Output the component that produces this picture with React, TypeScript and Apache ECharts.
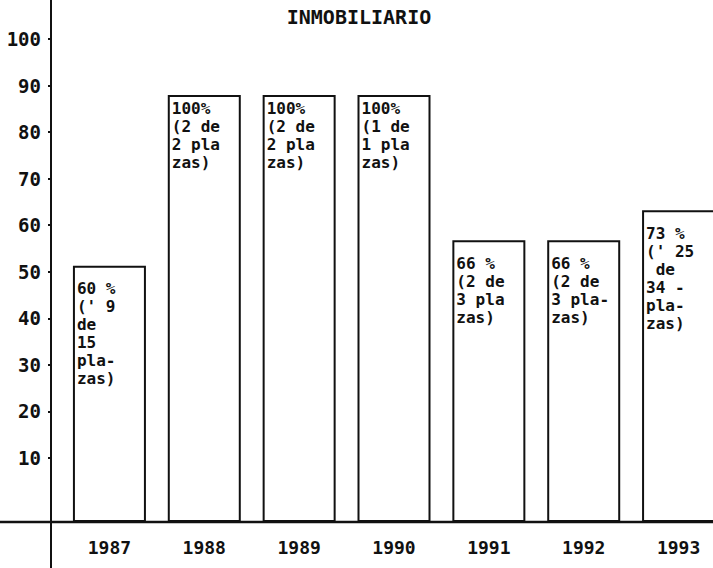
import React, { useEffect, useRef } from "react";
import * as echarts from "echarts";

const title = "INMOBILIARIO";
const years = ["1987", "1988", "1989", "1990", "1991", "1992", "1993"];
const percentages = [60, 100, 100, 100, 66, 66, 73];
const barTexts = [
  "60 %\n(' 9\nde\n15\npla-\nzas)",
  "100%\n(2 de\n2 pla\nzas)",
  "100%\n(2 de\n2 pla\nzas)",
  "100%\n(1 de\n1 pla\nzas)",
  "66 %\n(2 de\n3 pla\nzas)",
  "66 %\n(2 de\n3 pla-\nzas)",
  "73 %\n(' 25\n de\n34 -\npla-\nzas)",
];
const yTicks = [10, 20, 30, 40, 50, 60, 70, 80, 90, 100];

const FONT = "'DejaVu Sans Mono', 'Liberation Mono', monospace";

export default function App() {
  const ref = useRef<HTMLDivElement>(null);
  useEffect(() => {
    if (!ref.current) return;
    const chart = echarts.init(ref.current, null, { renderer: "svg" });
    const data = percentages.map((v, i) => ({
      value: v,
      label: {
        formatter: barTexts[i],
        padding: [v === 100 ? 0 : 10, 0, 0, 0],
      },
    }));
    chart.setOption({
      animation: false,
      backgroundColor: "#ffffff",
      title: {
        text: title,
        left: 354,
        top: 2,
        textAlign: "center",
        textStyle: { fontFamily: FONT, fontWeight: "bold", fontSize: 20, color: "#111" },
      },
      grid: [
        { left: 51, width: 662, top: 39, bottom: 110 },
        { left: 62, width: 664, top: 95, bottom: 46 },
      ],
      xAxis: [
        { type: "category", gridIndex: 0, data: years, show: false },
        {
          type: "category",
          gridIndex: 1,
          data: years,
          axisLine: { show: false },
          axisTick: { show: false },
          axisLabel: {
            margin: 16,
            fontFamily: FONT,
            fontWeight: "bold",
            fontSize: 18,
            color: "#111",
          },
        },
      ],
      yAxis: [
        {
          type: "value",
          gridIndex: 0,
          min: yTicks[0],
          max: yTicks[yTicks.length - 1],
          interval: 10,
          splitLine: { show: false },
          axisLine: { show: false },
          axisTick: { show: true, length: 3, lineStyle: { color: "#111", width: 2 } },
          axisLabel: {
            margin: 10,
            fontFamily: FONT,
            fontWeight: "bold",
            fontSize: 19,
            color: "#111",
          },
        },
        {
          type: "value",
          gridIndex: 1,
          min: 0,
          max: 100,
          show: false,
          splitLine: { show: false },
        },
      ],
      series: [
        {
          type: "bar",
          xAxisIndex: 1,
          yAxisIndex: 1,
          barWidth: 73,
          data,
          itemStyle: { color: "#ffffff", borderColor: "#111", borderWidth: 2 },
          label: {
            show: true,
            position: "insideTopLeft",
            distance: 4,
            fontFamily: FONT,
            fontWeight: "bold",
            fontSize: 16,
            lineHeight: 18,
            color: "#111",
            align: "left",
          },
        },
      ],
      graphic: [
        {
          type: "line",
          shape: { x1: 51, y1: 0, x2: 51, y2: 568 },
          style: { stroke: "#111", lineWidth: 2 },
          z: 10,
        },
        {
          type: "line",
          shape: { x1: 0, y1: 522, x2: 713, y2: 522 },
          style: { stroke: "#111", lineWidth: 2.5 },
          z: 10,
        },
      ],
    });
    return () => chart.dispose();
  }, []);
  return (
    <div
      style={{
        position: "absolute",
        left: 0,
        top: 0,
        width: 713,
        height: 568,
        overflow: "hidden",
        background: "#ffffff",
      }}
    >
      <div ref={ref} style={{ width: 726, height: 568 }} />
    </div>
  );
}
